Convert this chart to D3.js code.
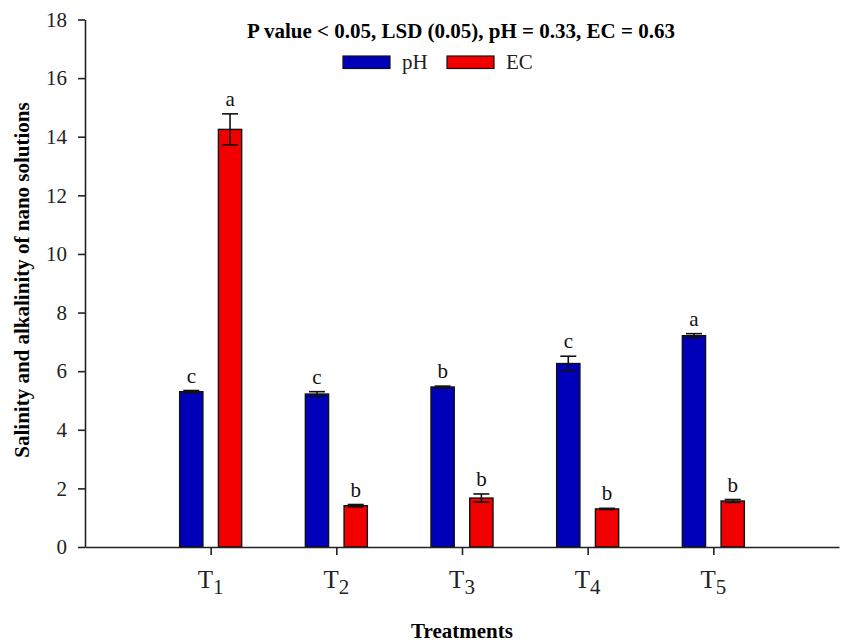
<!DOCTYPE html>
<html>
<head>
<meta charset="utf-8">
<script src="https://cdn.jsdelivr.net/npm/d3@7"></script>
<style>
	body { margin: 0; background: #fff; }
	text { font-family: "Liberation Serif", "Times New Roman", serif; }
</style>
</head>
<body>
<svg id="chart" width="843" height="644"></svg>
<script>
	"use strict";

	// data
	var treatments = ["1", "2", "3", "4", "5"];
	var seriesNames = ["pH", "EC"];
	var phValues = [5.30, 5.22, 5.46, 6.26, 7.21];
	var phErrors = [0.04, 0.08, 0.03, 0.25, 0.07];
	var phLetters = ["c", "c", "b", "c", "a"];
	var ecValues = [14.25, 1.41, 1.67, 1.30, 1.57];
	var ecErrors = [0.53, 0.04, 0.14, 0.02, 0.05];
	var ecLetters = ["a", "b", "b", "b", "b"];
	var yTicks = [0, 2, 4, 6, 8, 10, 12, 14, 16, 18];

	var colors = { pH: "#0000bb", EC: "#f20000" };

	var svg = d3.select("#chart");
	var plotLeft = 85, plotRight = 839, plotTop = 19.5, plotBottom = 547;

	var x = d3.scaleLinear().domain([0, treatments.length + 1]).range([plotLeft, plotRight]);
	var y = d3.scaleLinear().domain([0, 18]).range([plotBottom, plotTop]);
	var inner = d3.scaleBand().domain(seriesNames).range([-31, 31]).paddingInner(0.4);

	var rows = [];
	treatments.forEach(function(t, i) {
		rows.push({ t: i + 1, s: "pH", v: phValues[i], e: phErrors[i], l: phLetters[i] });
		rows.push({ t: i + 1, s: "EC", v: ecValues[i], e: ecErrors[i], l: ecLetters[i] });
	});

	function barCenter(d) {
		return x(d.t) + inner(d.s) + inner.bandwidth() / 2;
	}

	// bars
	svg.append("g").selectAll("rect")
		.data(rows)
		.enter().append("rect")
		.attr("x", function(d) { return x(d.t) + inner(d.s); })
		.attr("y", function(d) { return y(d.v); })
		.attr("width", inner.bandwidth())
		.attr("height", function(d) { return y(0) - y(d.v); })
		.attr("fill", function(d) { return colors[d.s]; })
		.attr("stroke", "#111")
		.attr("stroke-width", 1.4);

	// error bars
	var err = svg.append("g").attr("stroke", "#111").attr("stroke-width", 1.6);
	rows.forEach(function(d) {
		var cx = barCenter(d);
		err.append("line")
			.attr("x1", cx).attr("x2", cx)
			.attr("y1", y(d.v - d.e)).attr("y2", y(d.v + d.e));
		[d.v - d.e, d.v + d.e].forEach(function(v) {
			err.append("line")
				.attr("x1", cx - 8).attr("x2", cx + 8)
				.attr("y1", y(v)).attr("y2", y(v));
		});
	});

	// significance letters
	svg.append("g").selectAll("text")
		.data(rows)
		.enter().append("text")
		.attr("x", barCenter)
		.attr("y", function(d) { return y(d.v + d.e) - 8; })
		.attr("text-anchor", "middle")
		.attr("font-size", 21)
		.attr("fill", "#111")
		.text(function(d) { return d.l; });

	// y axis
	var yAxis = svg.append("g")
		.attr("transform", "translate(" + plotLeft + ",0)")
		.call(d3.axisLeft(y).tickValues(yTicks).tickSize(7).tickSizeOuter(0).tickPadding(11));
	yAxis.selectAll("text").attr("font-size", 21).attr("fill", "#222")
		.style("font-family", "Liberation Serif");

	// x axis
	svg.append("g")
		.attr("transform", "translate(0," + plotBottom + ")")
		.call(d3.axisBottom(x).tickValues(d3.range(1, treatments.length + 1)).tickSize(8).tickSizeOuter(0).tickFormat(""));
	svg.selectAll(".domain, .tick line").attr("stroke", "#222").attr("stroke-width", 1.6);

	var xl = svg.append("g").selectAll("text")
		.data(treatments)
		.enter().append("text")
		.attr("x", function(d, i) { return x(i + 1); })
		.attr("y", 588)
		.attr("text-anchor", "middle")
		.attr("font-size", 25)
		.attr("fill", "#222");
	xl.append("tspan").text("T");
	xl.append("tspan").attr("dy", 6).attr("font-size", 21).text(function(d) { return d; });

	// titles
	svg.append("text")
		.attr("x", 462).attr("y", 638)
		.attr("text-anchor", "middle")
		.attr("font-size", 21).attr("font-weight", "bold")
		.text("Treatments");

	svg.append("text")
		.attr("transform", "translate(29,280) rotate(-90)")
		.attr("text-anchor", "middle")
		.attr("font-size", 21).attr("font-weight", "bold")
		.text("Salinity and alkalinity of nano solutions");

	svg.append("text")
		.attr("x", 461).attr("y", 38)
		.attr("text-anchor", "middle")
		.attr("font-size", 21).attr("font-weight", "bold")
		.text("P value < 0.05, LSD (0.05), pH = 0.33, EC = 0.63");

	// legend
	var legendX = [343, 447];
	var legend = svg.append("g").selectAll("g")
		.data(seriesNames)
		.enter().append("g")
		.attr("transform", function(d, i) { return "translate(" + legendX[i] + ",56)"; });
	legend.append("rect")
		.attr("width", 47).attr("height", 12.5)
		.attr("fill", function(d) { return colors[d]; })
		.attr("stroke", "#111").attr("stroke-width", 1.2);
	legend.append("text")
		.attr("x", 59).attr("y", 13)
		.attr("font-size", 21).attr("fill", "#222")
		.text(function(d) { return d; });
</script>
</body>
</html>
